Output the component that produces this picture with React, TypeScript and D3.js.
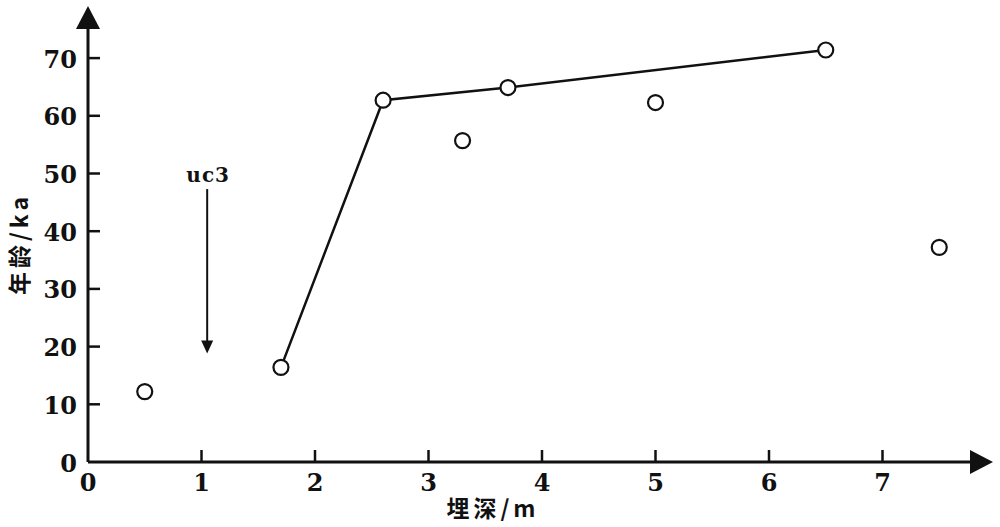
import React from "react";
import * as d3 from "d3";

const depths = [0.5, 1.7, 2.6, 3.3, 3.7, 5.0, 6.5, 7.5];
const ages = [12.2, 16.4, 62.7, 55.7, 64.9, 62.3, 71.4, 37.2];
const lineDepths = [1.7, 2.6, 3.7, 6.5];
const lineAges = [16.4, 62.7, 64.9, 71.4];
const xTicks = [0, 1, 2, 3, 4, 5, 6, 7];
const yTicks = [0, 10, 20, 30, 40, 50, 60, 70];
const markerDepth = 1.05;
const markerTop = 47.3;
const markerBottom = 18.8;
const markerLabel = "uc3";
const xTitle = "埋深/m";
const yTitle = "年龄/ka";

const W = 1000;
const H = 527;
const x = d3.scaleLinear().domain([0, 1]).range([88, 201.5]);
const y = d3.scaleLinear().domain([0, 10]).range([462, 404.3]);

const numFont = "'DejaVu Serif', 'Liberation Serif', serif";
const cjkFont = "'Noto Sans CJK SC', 'DejaVu Serif', serif";

export default function App() {
  const line = d3
    .line<number>()
    .x((d) => x(d))
    .y((_, i) => y(lineAges[i]));
  const x0 = x(0);
  const y0 = y(0);
  const mx = x(markerDepth);
  const mTop = y(markerTop);
  const mBot = y(markerBottom);
  return (
    <svg
      width={W}
      height={H}
      style={{ position: "absolute", left: 0, top: 0, background: "#fff" }}
    >
      {/* axes */}
      <line x1={x0} y1={y0} x2={x0} y2={24} stroke="#111" strokeWidth={3} />
      <polygon points={`${x0 - 12},${29} ${x0 + 12},${29} ${x0},${6}`} fill="#111" />
      <line x1={x0} y1={y0} x2={975} y2={y0} stroke="#111" strokeWidth={3} />
      <polygon points={`${970},${y0 - 12} ${970},${y0 + 12} ${993},${y0}`} fill="#111" />

      {yTicks.map((t) => (
        <g key={"y" + t}>
          {t > 0 && (
            <line x1={x0} x2={x0 + 12} y1={y(t)} y2={y(t)} stroke="#111" strokeWidth={2.5} />
          )}
          <text
            x={77}
            y={y(t) + 1}
            textAnchor="end"
            dominantBaseline="central"
            fontFamily={numFont}
            fontWeight="bold"
            fontSize={24}
            fill="#111"
          >
            {t}
          </text>
        </g>
      ))}
      {xTicks.map((t) => (
        <g key={"x" + t}>
          {t > 0 && (
            <line x1={x(t)} x2={x(t)} y1={y0} y2={y0 - 12} stroke="#111" strokeWidth={2.5} />
          )}
          <text
            x={x(t)}
            y={482}
            textAnchor="middle"
            dominantBaseline="central"
            fontFamily={numFont}
            fontWeight="bold"
            fontSize={24}
            fill="#111"
          >
            {t}
          </text>
        </g>
      ))}

      {/* titles */}
      <text
        x={493}
        y={507}
        textAnchor="middle"
        dominantBaseline="central"
        fontFamily={cjkFont}
        fontWeight="bold"
        fontSize={23}
        letterSpacing={4}
        fill="#111"
      >
        {xTitle}
      </text>
      <text
        transform={`translate(18,244) rotate(-90)`}
        textAnchor="middle"
        dominantBaseline="central"
        fontFamily={cjkFont}
        fontWeight="bold"
        fontSize={23}
        letterSpacing={4}
        fill="#111"
      >
        {yTitle}
      </text>

      {/* marker arrow */}
      <text
        x={mx + 1}
        y={175}
        textAnchor="middle"
        dominantBaseline="central"
        fontFamily={numFont}
        fontWeight="bold"
        fontSize={20}
        letterSpacing={1}
        fill="#111"
      >
        {markerLabel}
      </text>
      <line x1={mx} x2={mx} y1={mTop} y2={mBot - 10} stroke="#111" strokeWidth={2} />
      <polygon points={`${mx - 6},${mBot - 13} ${mx + 6},${mBot - 13} ${mx},${mBot}`} fill="#111" />

      {/* connecting line */}
      <path d={line(lineDepths) || ""} fill="none" stroke="#111" strokeWidth={2.5} />

      {/* points */}
      {depths.map((d, i) => (
        <circle
          key={i}
          cx={x(d)}
          cy={y(ages[i])}
          r={7.5}
          fill="#fff"
          stroke="#111"
          strokeWidth={2.2}
        />
      ))}
    </svg>
  );
}
